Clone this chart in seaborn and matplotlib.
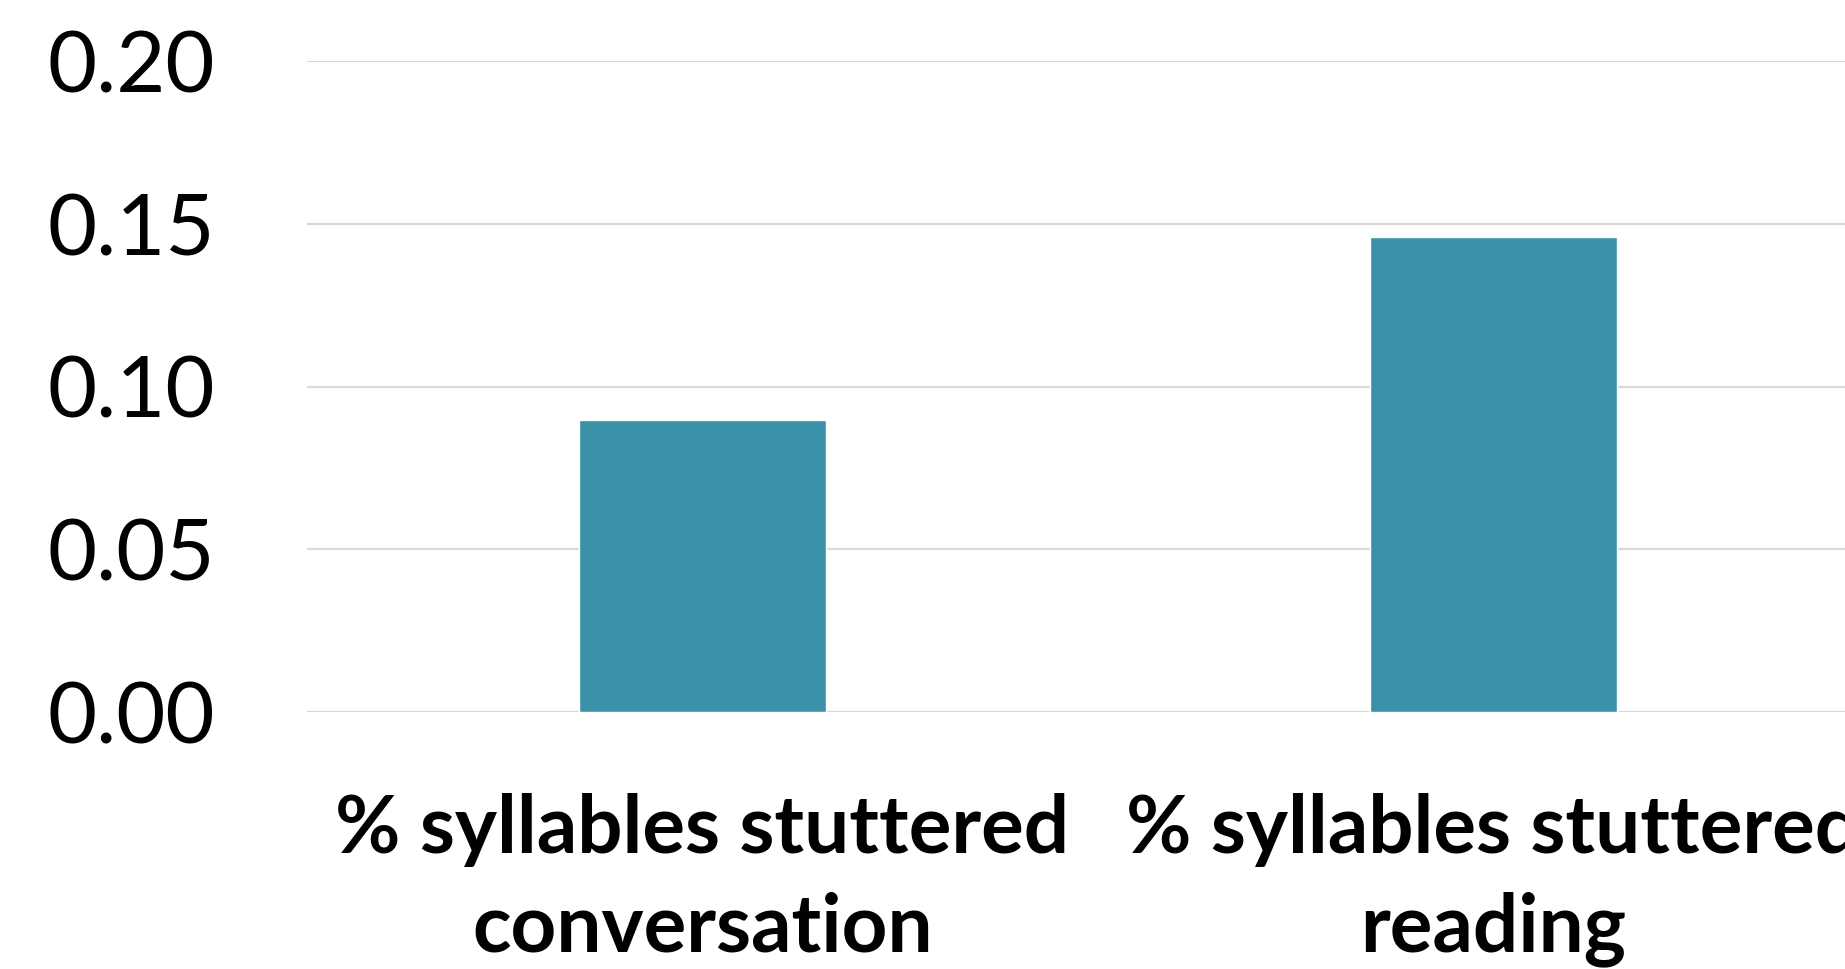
import matplotlib
matplotlib.use("Agg")
import matplotlib.pyplot as plt
import seaborn as sns
import pandas as pd

categories = ["% syllables stuttered\nconversation", "% syllables stuttered\nreading"]
values = [0.0897, 0.1458]
yticks = [0.00, 0.05, 0.10, 0.15, 0.20]
ytick_labels = ["0.00", "0.05", "0.10", "0.15", "0.20"]

sns.set_theme(style="white")
plt.rcParams["font.family"] = ["Lato", "DejaVu Sans"]

df = pd.DataFrame({"measure": categories, "value": values})

W, H = 1845, 969
fig = plt.figure(figsize=(W / 100, H / 100), dpi=100)
fig.patch.set_facecolor("white")
# axes deliberately run past the right edge of the canvas
left, right, top, bottom = 307, 1889, 61, 712
ax = fig.add_axes([left / W, 1 - bottom / H, (right - left) / W, (bottom - top) / H])

sns.barplot(data=df, x="measure", y="value", color="#3A91A8", width=0.312,
            saturation=1, ax=ax, zorder=3)

ax.set_ylim(0, 0.2)
ax.set_yticks(yticks)
ax.set_yticklabels(ytick_labels)
ax.set_xlim(-0.5, 1.5)
ax.grid(axis="y", color="#d9d9d9", linewidth=1.6, zorder=0)
ax.grid(axis="x", visible=False)
ax.set_axisbelow(True)
for s in ax.spines.values():
    s.set_visible(False)
ax.set_xlabel("")
ax.set_ylabel("")
ax.tick_params(axis="y", length=0, pad=66, labelsize=61, labelcolor="black")
ax.tick_params(axis="x", length=0, pad=58, labelsize=57.5, labelcolor="black")
for lab in ax.get_xticklabels():
    lab.set_fontweight("bold")
    lab.set_linespacing(1.41)

fig.savefig("out.png", dpi=100, facecolor="white")
